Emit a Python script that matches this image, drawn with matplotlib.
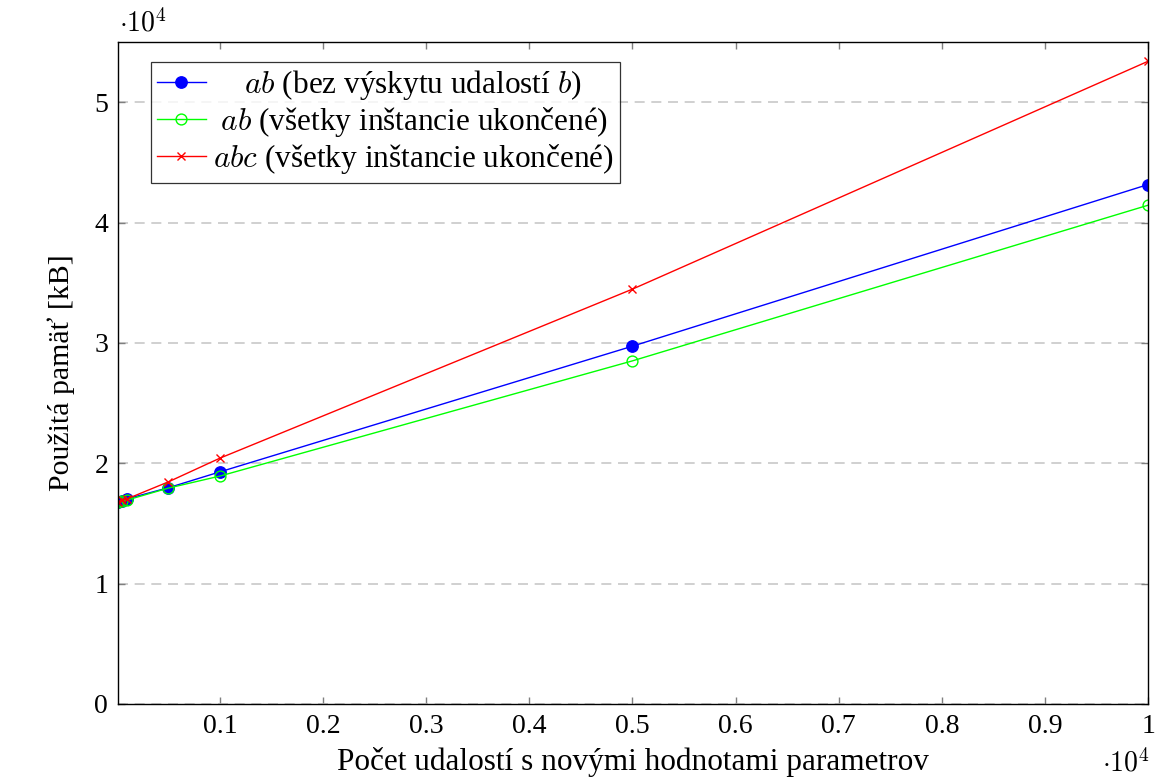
import matplotlib
matplotlib.use("Agg")
import matplotlib.pyplot as plt
from matplotlib.ticker import FuncFormatter, FixedLocator

plt.rcParams['font.family'] = ['Liberation Serif', 'DejaVu Serif']
plt.rcParams['mathtext.fontset'] = 'cm'

# number of events with new parameter values
events = [10, 50, 100, 500, 1000, 5000, 10000]
# memory used [kB]
mem_ab_no_b = [16800, 16900, 17050, 17970, 19290, 29730, 43160]
mem_ab_done = [16780, 16850, 16950, 17940, 18940, 28510, 41440]
mem_abc_done = [16800, 16920, 17050, 18460, 20430, 34470, 53400]

labels = [r"    $ab$ (bez výskytu udalostí $b$)",
          r" $ab$ (všetky inštancie ukončené)",
          r"$abc$ (všetky inštancie ukončené)"]

xticks = [1000, 2000, 3000, 4000, 5000, 6000, 7000, 8000, 9000, 10000]
yticks = [0, 10000, 20000, 30000, 40000, 50000]

fs = 20
fs_lab = 22.5

fig = plt.figure(figsize=(11.6, 7.81), dpi=100)
ax = fig.add_axes([0.1017, 0.0986, 0.888, 0.8476])

ax.plot(events, mem_ab_no_b, color=(0, 0, 1), lw=1.0, marker='o',
        markersize=8.2, label=labels[0])
ax.plot(events, mem_ab_done, color=(0, 1, 0), lw=1.0, marker='o',
        markersize=7.8, markerfacecolor='none', markeredgewidth=1.0, label=labels[1])
ax.plot(events, mem_abc_done, color=(1, 0, 0), lw=1.0, marker='x',
        markersize=6, markeredgewidth=1.0, label=labels[2])

ax.set_xlim(10, 10000)
ax.set_ylim(0, 55000)
ax.xaxis.set_major_locator(FixedLocator(xticks))
ax.yaxis.set_major_locator(FixedLocator(yticks))
ax.xaxis.set_major_formatter(FuncFormatter(lambda v, p: f"{v / 1e4:g}"))
ax.yaxis.set_major_formatter(FuncFormatter(lambda v, p: f"{v / 1e4:g}"))
ax.tick_params(direction='in', top=True, right=True, length=5, width=1,
               color='#7f7f7f', labelsize=fs, pad=7)
ax.grid(axis='y', color='#c8c8c8', linestyle=(0, (6, 4)), lw=1.2)
ax.set_axisbelow(True)
for s in ax.spines.values():
    s.set_linewidth(1.0)

ax.set_xlabel("Počet udalostí s novými hodnotami parametrov", fontsize=fs_lab, labelpad=6)
ax.set_ylabel("Použitá pamäť [kB]", fontsize=21.5, labelpad=14)

fig.text(0.103, 0.952, r"$\cdot 10^4$", fontsize=fs, ha='left', va='bottom')
fig.text(0.991, 0.004, r"$\cdot 10^4$", fontsize=fs, ha='right', va='bottom')

leg = ax.legend(loc='upper left', bbox_to_anchor=(0.032, 0.97), fontsize=22.5,
                frameon=True, fancybox=False, edgecolor='black',
                handlelength=1.55, handletextpad=0.25, borderpad=0.2,
                labelspacing=0.1, borderaxespad=0)
leg.get_frame().set_linewidth(0.9)

fig.savefig("out.png", dpi=100)
